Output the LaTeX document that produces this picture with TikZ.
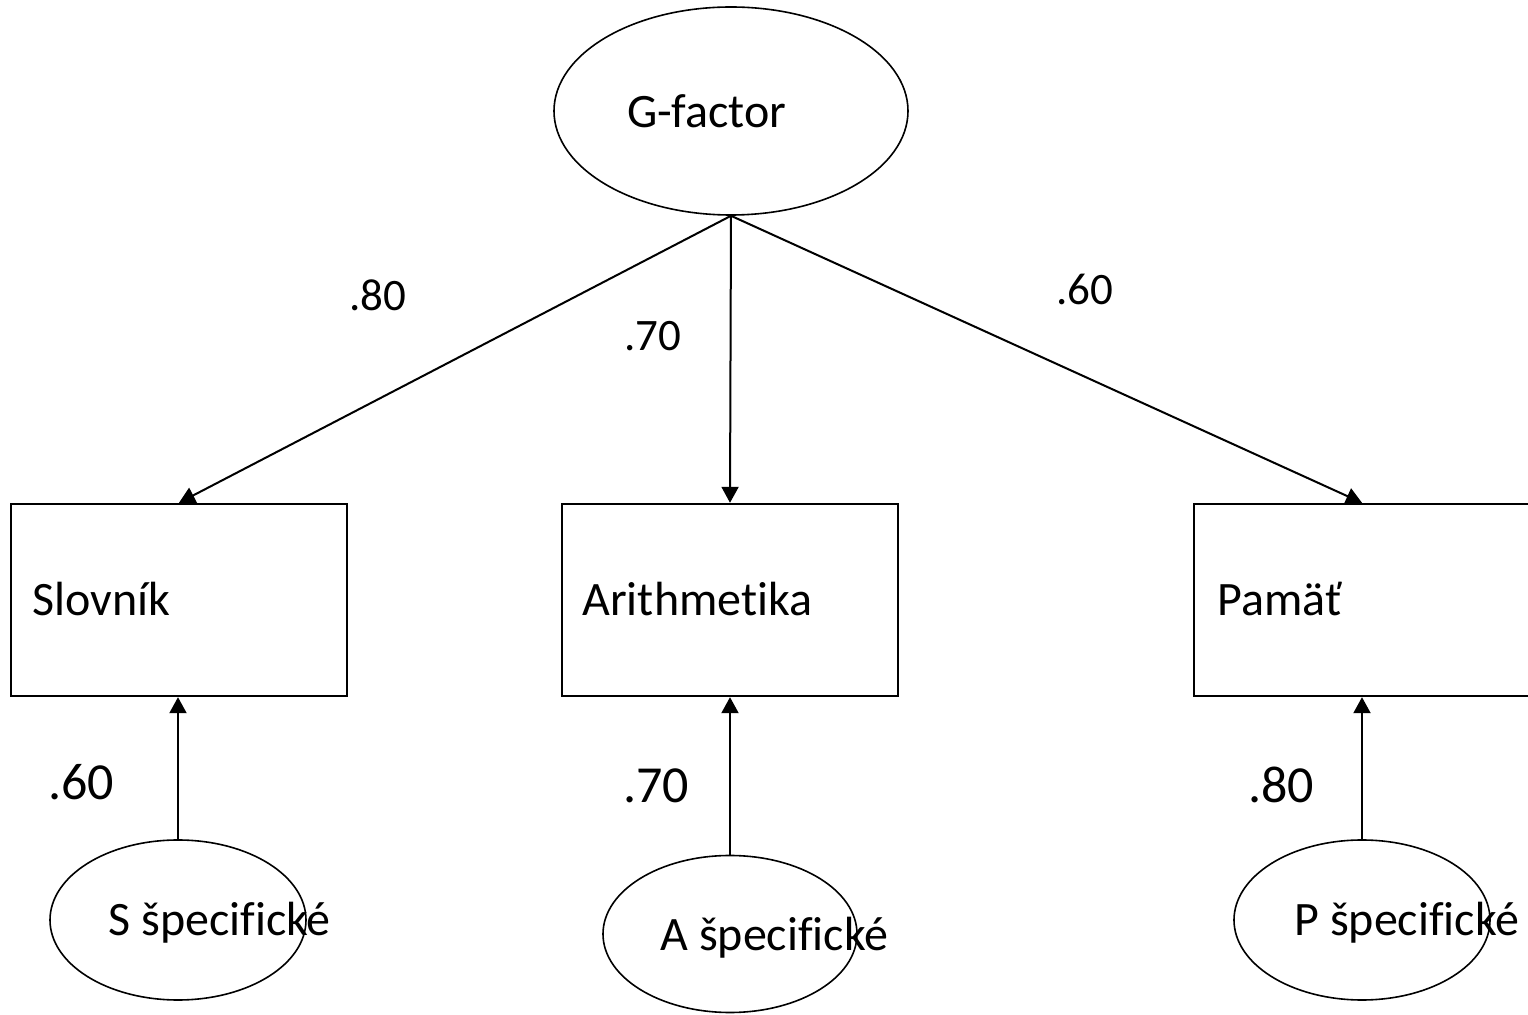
\documentclass[tikz,border=0pt]{standalone}
\usepackage{fontspec}
\setmainfont{Carlito}[Ligatures=CommonOff]
\usetikzlibrary{arrows.meta,shapes.geometric}
\begin{document}
\begin{tikzpicture}[x=0.5pt,y=-0.5pt,
  box/.style={draw,line width=1.2pt,fill=white,minimum width=168pt,minimum height=96pt,inner sep=0pt},
  oval/.style={draw,ellipse,line width=0.8pt,fill=white,inner sep=0pt},
  txt/.style={anchor=base west,inner sep=0pt,font=\fontsize{24}{28}\selectfont},
  coef/.style={anchor=base west,inner sep=0pt,font=\fontsize{22.5}{27}\selectfont},
  coefb/.style={anchor=base west,inner sep=0pt,font=\fontsize{26}{31}\selectfont},
  arr/.style={line width=1pt,-{Triangle[length=8pt,width=8.5pt]}}]
\fill[white] (0,0) rectangle (1528,1015);
\useasboundingbox (0,0) rectangle (1528,1015);

% latent factor and observed measures
\node[oval,minimum width=177pt,minimum height=104pt] (G) at (731,111) {};
\node[box] (SL) at (179,600) {};
\node[box] (AR) at (730,600) {};
\node[box] (PA) at (1362,600) {};

% specific factors
\node[oval,minimum width=128pt,minimum height=80pt] (S) at (178,920) {};
\node[oval,minimum width=127pt,minimum height=78.5pt] (A) at (730,934) {};
\node[oval,minimum width=128pt,minimum height=80pt] (P) at (1362,920) {};

% texts
\node[txt] (Gt) at (627,128) {G-factor};
\node[txt] (SLt) at (32,616) {Slovník};
\node[txt] (ARt) at (582,616) {Arithmetika};
\node[txt] (PAt) at (1217,616) {Pamäť};
\node[txt] (St) at (108,936) {S špecifické};
\node[txt] (At) at (660,951) {A špecifické};
\node[txt] (Pt) at (1294,936) {P špecifické};

% loadings
\node[coef] (l1) at (349,311) {.80};
\node[coef] (l2) at (624,351) {.70};
\node[coef] (l3) at (1056,305) {.60};
\node[coefb] (l4) at (48,800) {.60};
\node[coefb] (l5) at (623,803) {.70};
\node[coefb] (l6) at (1248,803) {.80};

% paths
\draw[arr] (G.south) -- (SL.north);
\draw[arr] (G.south) -- (AR.north);
\draw[arr] (G.south) -- (PA.north);
\draw[arr] (S.north) -- (S.north |- SL.south);
\draw[arr] (A.north) -- (A.north |- AR.south);
\draw[arr] (P.north) -- (P.north |- PA.south);
\end{tikzpicture}
\end{document}
